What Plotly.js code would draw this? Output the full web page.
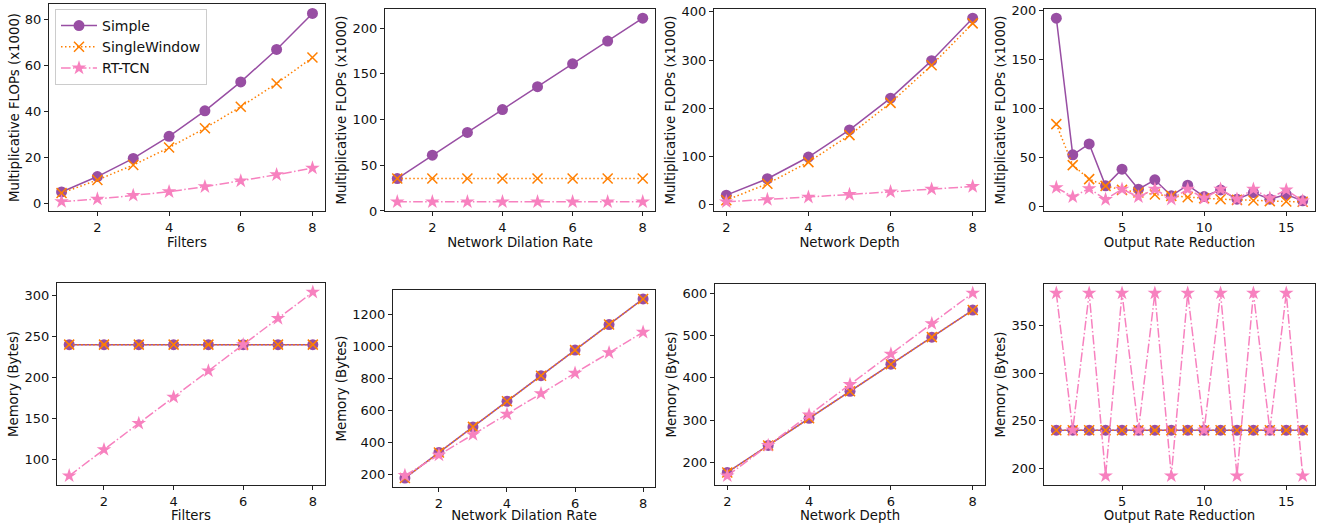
<!DOCTYPE html>
<html>
<head>
<meta charset="utf-8">
<script src="https://cdn.plot.ly/plotly-3.0.1.min.js"></script>
<style>html,body{margin:0;padding:0;background:#fff;}#chart{width:1326px;height:523px;}</style>
</head>
<body>
<div id="chart"></div>
<script>
// ---------- data ----------
const seriesNames = ["Simple", "SingleWindow", "RT-TCN"];

const filters = [1, 2, 3, 4, 5, 6, 7, 8];
const dilation = [1, 2, 3, 4, 5, 6, 7, 8];
const depth = [2, 3, 4, 5, 6, 7, 8];
const reduction = [1, 2, 3, 4, 5, 6, 7, 8, 9, 10, 11, 12, 13, 14, 15, 16];

const flopsFiltersSimple = [5.1, 11.8, 19.7, 29.3, 40.4, 53.0, 67.1, 82.8];
const flopsFiltersSingle = [4.6, 10.3, 16.8, 24.4, 32.8, 42.2, 52.3, 63.6];
const flopsFiltersRT = [0.9, 2.0, 3.6, 5.2, 7.4, 9.9, 12.6, 15.5];

const flopsDilSimple = [35.5, 61, 86, 111, 136, 161, 186, 211];
const flopsDilSingle = [35.5, 35.5, 35.5, 35.5, 35.5, 35.5, 35.5, 35.5];
const flopsDilRT = [10, 10, 10, 10, 10, 10, 10, 10];

const flopsDepthSimple = [19.4, 53.5, 98.6, 154.9, 220.8, 298.6, 386.8];
const flopsDepthSingle = [9, 43, 88, 144, 211, 289, 376];
const flopsDepthRT = [5.6, 10.4, 15.3, 20.8, 26.4, 32, 37.5];

const flopsRedSimple = [192.5, 52.8, 64, 21.1, 38.2, 17.7, 27.3, 10.9, 21.8, 10.2, 17, 7.5, 14.3, 7.5, 12.3, 5.8];
const flopsRedSingle = [84.2, 42.3, 28, 21.1, 17, 14.3, 12.3, 10.9, 9.5, 8.5, 7.5, 6.8, 6.1, 5.5, 5.1, 4.8];
const flopsRedRT = [19.4, 9.9, 18.4, 7.2, 17.7, 9.9, 17.7, 7.5, 17.7, 8.5, 17.7, 7.5, 17.7, 8.5, 17, 5.8];

const memFiltersSimple = [240, 240, 240, 240, 240, 240, 240, 240];
const memFiltersSingle = [240, 240, 240, 240, 240, 240, 240, 240];
const memFiltersRT = [80, 112, 144, 176, 208, 240, 272, 304];

const memDilSimple = [176, 336, 496, 656, 816, 976, 1136, 1296];
const memDilSingle = [176, 336, 496, 656, 816, 976, 1136, 1296];
const memDilRT = [192, 320, 448, 576, 704, 832, 960, 1088];

const memDepthSimple = [176, 240, 304, 368, 432, 496, 560];
const memDepthSingle = [176, 240, 304, 368, 432, 496, 560];
const memDepthRT = [168, 240, 312, 384, 456, 528, 600];

const memRedSimple = [240, 240, 240, 240, 240, 240, 240, 240, 240, 240, 240, 240, 240, 240, 240, 240];
const memRedSingle = [240, 240, 240, 240, 240, 240, 240, 240, 240, 240, 240, 240, 240, 240, 240, 240];
const memRedRT = [384, 240, 384, 192, 384, 240, 384, 192, 384, 240, 384, 192, 384, 240, 384, 192];

const xTitles = ["Filters", "Network Dilation Rate", "Network Depth", "Output Rate Reduction"];
const yTitleFlops = "Multiplicative FLOPs (x1000)";
const yTitleMem = "Memory (Bytes)";

// ---------- layout ----------
const W = 1326, H = 523;
const boxes = [ // pixel boxes [x0, x1, y0(top), y1(bottom)]
  [49, 325, 4, 211], [385, 655, 9, 211], [714, 985, 9, 211], [1044, 1315, 9, 211],
  [57, 325, 283, 485], [393, 655, 290, 487], [715, 985, 284, 485], [1044, 1315, 284, 485]
];
const panels = [
  {x: filters, ys: [flopsFiltersSimple, flopsFiltersSingle, flopsFiltersRT], xt: xTitles[0], yt: yTitleFlops, xd: 2, yd: 20},
  {x: dilation, ys: [flopsDilSimple, flopsDilSingle, flopsDilRT], xt: xTitles[1], yt: yTitleFlops, xd: 2, yd: 50},
  {x: depth, ys: [flopsDepthSimple, flopsDepthSingle, flopsDepthRT], xt: xTitles[2], yt: yTitleFlops, xd: 2, yd: 100},
  {x: reduction, ys: [flopsRedSimple, flopsRedSingle, flopsRedRT], xt: xTitles[3], yt: yTitleFlops, xd: 5, yd: 50},
  {x: filters, ys: [memFiltersSimple, memFiltersSingle, memFiltersRT], xt: xTitles[0], yt: yTitleMem, xd: 2, yd: 50},
  {x: dilation, ys: [memDilSimple, memDilSingle, memDilRT], xt: xTitles[1], yt: yTitleMem, xd: 2, yd: 200},
  {x: depth, ys: [memDepthSimple, memDepthSingle, memDepthRT], xt: xTitles[2], yt: yTitleMem, xd: 2, yd: 100},
  {x: reduction, ys: [memRedSimple, memRedSingle, memRedRT], xt: xTitles[3], yt: yTitleMem, xd: 5, yd: 50}
];

const styles = [
  {color: "#984ea3", dash: "solid", symbol: "circle", size: 11},
  {color: "#ff7f00", dash: "1.5px,2.5px", symbol: "x-thin-open", size: 10},
  {color: "#f781bf", dash: "9.6px,2.4px,1.5px,2.4px", symbol: "star", size: 11}
];

function pad(arrs) {
  let mn = Infinity, mx = -Infinity;
  arrs.forEach(a => a.forEach(v => { mn = Math.min(mn, v); mx = Math.max(mx, v); }));
  const m = (mx - mn) * 0.05;
  return [mn - m, mx + m];
}

const FAM = "DejaVu Sans, sans-serif";
const traces = [];
const layout = {
  width: W, height: H,
  margin: {l: 0, r: 0, t: 0, b: 0},
  paper_bgcolor: "#fff", plot_bgcolor: "#fff",
  font: {family: FAM, size: 13, color: "#111"},
  showlegend: true,
  legend: {
    x: 55 / W, y: 1 - 9 / H, xanchor: "left", yanchor: "top",
    bgcolor: "rgba(255,255,255,0.9)", bordercolor: "#cccccc", borderwidth: 1,
    font: {family: FAM, size: 14, color: "#111"},
    tracegroupgap: 0, itemwidth: 36
  }
};

panels.forEach((p, i) => {
  const k = i + 1;
  const xa = "x" + (k === 1 ? "" : k), ya = "y" + (k === 1 ? "" : k);
  const b = boxes[i];
  p.ys.forEach((y, s) => {
    const st = styles[s];
    traces.push({
      type: "scatter", mode: "lines+markers",
      x: p.x, y: y, xaxis: xa, yaxis: ya,
      name: seriesNames[s], showlegend: i === 0,
      line: {color: st.color, width: 1.5, dash: st.dash},
      marker: {symbol: st.symbol, size: st.size, color: st.color,
               line: {color: st.color, width: s === 1 ? 1.5 : 0}},
      cliponaxis: false
    });
  });
  const xr = pad([p.x]);
  const yr = pad(p.ys);
  const axCommon = {
    showline: true, mirror: true, linecolor: "#222", linewidth: 1,
    ticks: "outside", ticklen: 4, tickwidth: 1, tickcolor: "#222",
    showgrid: false, zeroline: false,
    tickfont: {family: FAM, size: 13, color: "#111"}
  };
  layout["xaxis" + (k === 1 ? "" : k)] = Object.assign({}, axCommon, {
    domain: [b[0] / W, b[1] / W], anchor: ya, range: xr, dtick: p.xd, tick0: 0,
    title: {text: p.xt, font: {family: FAM, size: 13.3, color: "#111"}, standoff: 0}
  });
  layout["yaxis" + (k === 1 ? "" : k)] = Object.assign({}, axCommon, {
    domain: [1 - b[3] / H, 1 - b[2] / H], anchor: xa, range: yr, dtick: p.yd, tick0: 0,
    title: {text: p.yt, font: {family: FAM, size: 13.3, color: "#111"}, standoff: 2}
  });
});

Plotly.newPlot("chart", traces, layout, {displayModeBar: false, staticPlot: true});
</script>
</body>
</html>
